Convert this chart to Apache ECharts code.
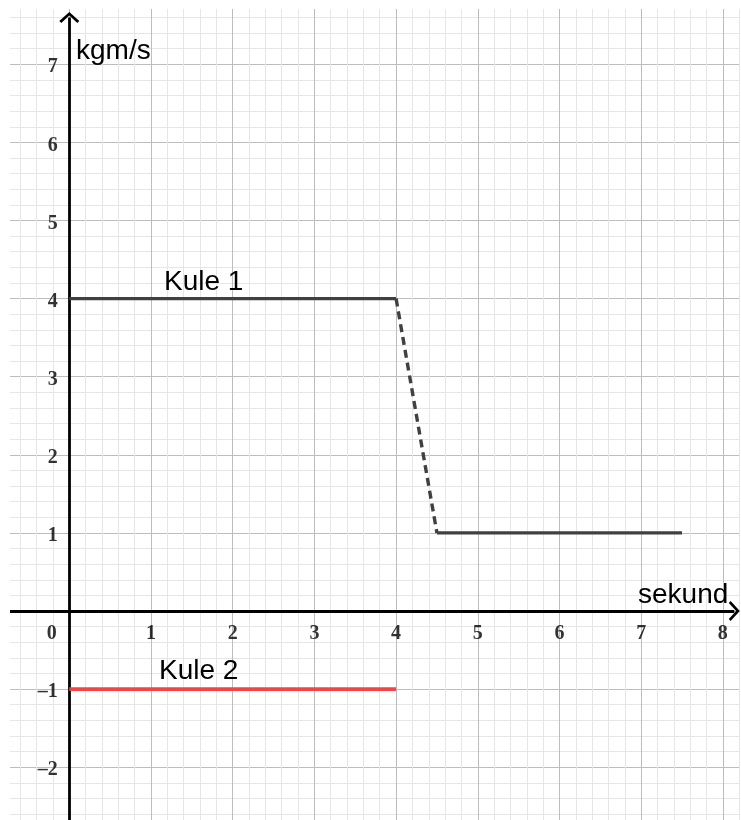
<!DOCTYPE html>
<html>
<head>
<meta charset="utf-8">
<script src="https://cdn.jsdelivr.net/npm/echarts@6/dist/echarts.min.js"></script>
<style>html,body{margin:0;padding:0;background:#fff;}#c{width:741px;height:820px;}</style>
</head>
<body>
<div id="c"></div>
<script>
// ---- data ----
const kule1Time = [0, 4, 4.5, 7.5];
const kule1Momentum = [4, 4, 1, 1];
const kule2Time = [0, 4];
const kule2Momentum = [-1, -1];

const xTickValues = [0, 1, 2, 3, 4, 5, 6, 7, 8];
const xTickLabels = ['0', '1', '2', '3', '4', '5', '6', '7', '8'];
const yTickValues = [-2, -1, 1, 2, 3, 4, 5, 6, 7];
const yTickLabels = ['–2', '–1', '1', '2', '3', '4', '5', '6', '7'];

const xAxisName = 'sekund';
const yAxisName = 'kgm/s';
const kule1Name = 'Kule 1';
const kule2Name = 'Kule 2';

// axis extents (view window)
const X_MIN = -0.8, X_MAX = 8.2, Y_MIN = -2.8, Y_MAX = 7.8;
const X_AXIS_FROM = -0.726, X_AXIS_TO = 8.14;
const Y_AXIS_FROM = -2.8, Y_AXIS_TO = 7.6;

const pts = (xs, ys, a, b) => xs.slice(a, b).map((x, i) => [x, ys[a + i]]);

const MINOR = '#e6e6e6', MAJOR = '#bdbdbd';
const gridColors = [MINOR, MINOR, MINOR, MINOR, MAJOR];
const labelFont = {fontFamily: '"Liberation Serif", "Times New Roman", serif', fontWeight: 'bold', fontSize: 20, color: '#000'};
const textFont = '28px "Liberation Sans", Arial, sans-serif';

const chevron = 'path://M0 10 L10 0 L20 10 L18 12 L10 4 L2 12 Z';

const xTickData = xTickValues.map((v, i) => ({
  value: [v, 0], name: xTickLabels[i],
  label: {offset: v === 0 ? [-17.6, 0] : [0, 0]}
}));
const yTickData = yTickValues.map((v, i) => ({value: [0, v], name: yTickLabels[i]}));

const chart = echarts.init(document.getElementById('c'), null, {renderer: 'canvas'});
chart.setOption({
  animation: false,
  backgroundColor: '#fff',
  grid: {left: 3.94, right: 1.8, top: 1.82, bottom: -9.7, containLabel: false, outerBoundsMode: 'none'},
  xAxis: {
    type: 'value', min: X_MIN, max: X_MAX, interval: 0.2,
    axisLine: {show: false},
    axisTick: {show: false},
    axisLabel: {show: false},
    splitLine: {show: true, lineStyle: {color: gridColors, width: 1}}
  },
  yAxis: {
    type: 'value', min: Y_MIN, max: Y_MAX, interval: 0.2,
    axisLine: {show: false},
    axisTick: {show: false},
    axisLabel: {show: false},
    splitLine: {show: true, lineStyle: {color: gridColors, width: 1}}
  },
  graphic: [
    {type: 'rect', z: 1, shape: {x: 0, y: 0, width: 741, height: 9}, style: {fill: '#fff'}},
    {type: 'rect', z: 1, shape: {x: 0, y: 0, width: 10, height: 820}, style: {fill: '#fff'}},
    {type: 'text', z: 10, style: {x: 76, y: 51, text: yAxisName, font: textFont, fill: '#000', verticalAlign: 'middle'}},
    {type: 'text', z: 10, style: {x: 638, y: 595, text: xAxisName, font: textFont, fill: '#000', verticalAlign: 'middle'}},
    {type: 'text', z: 10, style: {x: 164, y: 282, text: kule1Name, font: textFont, fill: '#000', verticalAlign: 'middle'}},
    {type: 'text', z: 10, style: {x: 159, y: 671, text: kule2Name, font: textFont, fill: '#000', verticalAlign: 'middle'}}
  ],
  series: [
    {
      type: 'line', z: 5, data: [[0, 0]], symbol: 'none', lineStyle: {width: 0}, silent: true,
      markLine: {
        silent: true, animation: false,
        symbol: ['none', chevron], symbolSize: [20, 11],
        label: {show: false},
        lineStyle: {color: '#000', width: 2.8, type: 'solid'},
        data: [
          [{coord: [X_AXIS_FROM, 0]}, {coord: [X_AXIS_TO, 0]}],
          [{coord: [0, Y_AXIS_FROM]}, {coord: [0, Y_AXIS_TO]}]
        ]
      }
    },
    {
      type: 'scatter', z: 7, silent: true, symbolSize: 1, itemStyle: {color: 'rgba(0,0,0,0)'},
      data: xTickData,
      label: Object.assign({show: true, position: 'bottom', distance: 12, formatter: '{b}'}, labelFont)
    },
    {
      type: 'scatter', z: 7, silent: true, symbolSize: 1, itemStyle: {color: 'rgba(0,0,0,0)'},
      data: yTickData,
      label: Object.assign({show: true, position: 'left', distance: 11, offset: [0, 3], formatter: '{b}'}, labelFont)
    },
    {
      name: kule1Name, type: 'line', z: 6, data: pts(kule1Time, kule1Momentum, 0, 2),
      symbol: 'none', lineStyle: {color: '#404040', width: 3.4}
    },
    {
      name: kule1Name, type: 'line', z: 6, data: pts(kule1Time, kule1Momentum, 1, 3),
      symbol: 'none', lineStyle: {color: '#404040', width: 3.4, type: [8, 5]}
    },
    {
      name: kule1Name, type: 'line', z: 6, data: pts(kule1Time, kule1Momentum, 2, 4),
      symbol: 'none', lineStyle: {color: '#404040', width: 3.4}
    },
    {
      name: kule2Name, type: 'line', z: 6, data: pts(kule2Time, kule2Momentum, 0, 2),
      symbol: 'none', lineStyle: {color: '#f24545', width: 3.6}
    }
  ]
});
</script>
</body>
</html>
